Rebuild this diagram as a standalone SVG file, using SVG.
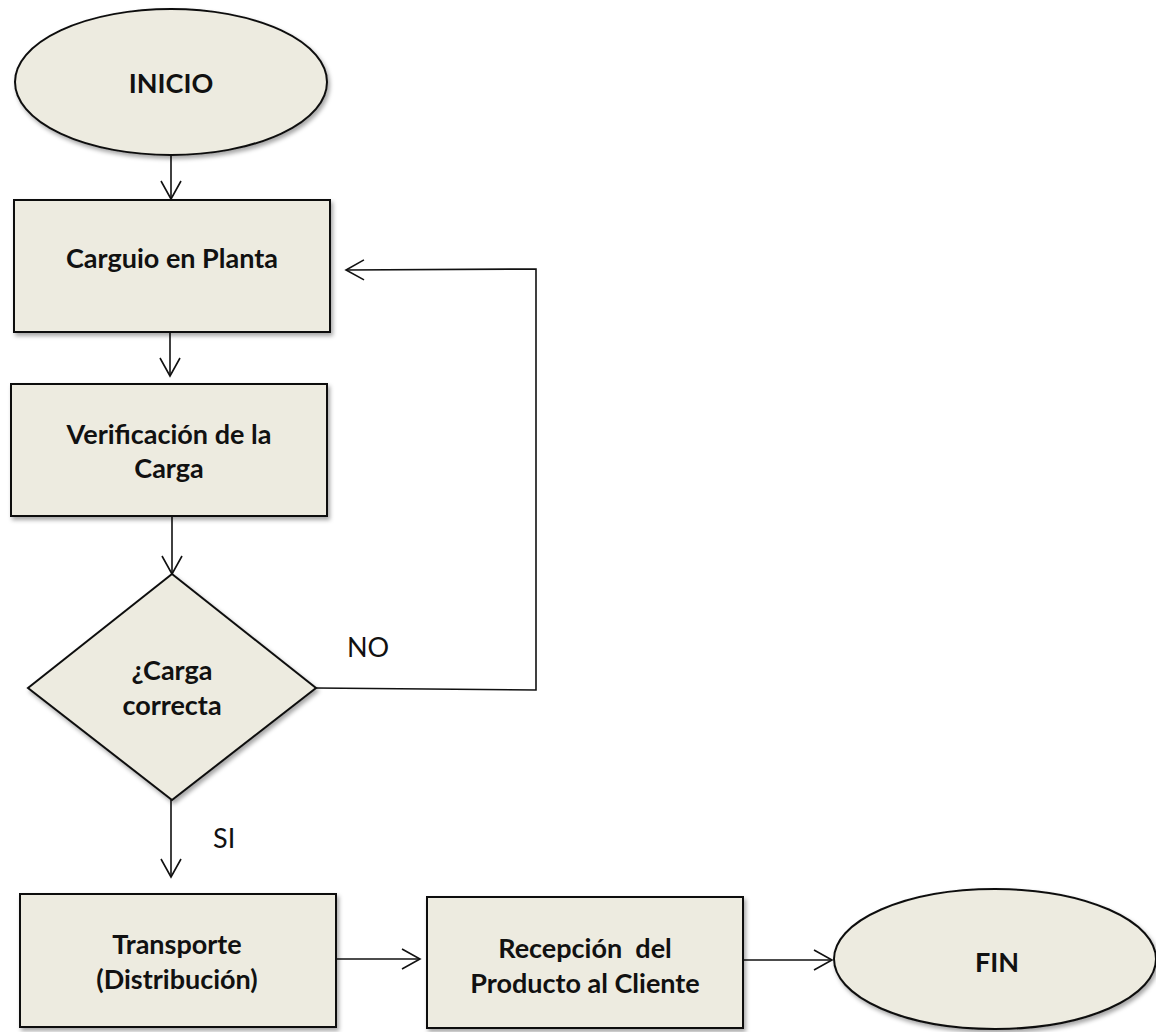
<svg xmlns="http://www.w3.org/2000/svg" width="1156" height="1032" viewBox="0 0 1156 1032">
<style>
.node{fill:#EDEBE0;stroke:#111;stroke-width:2;filter:url(#sh)}
.lbl{font-family:Lato,"Liberation Sans",sans-serif;font-weight:bold;font-size:27px;fill:#111;text-anchor:middle}
.reg{font-family:Lato,"Liberation Sans",sans-serif;font-size:27px;fill:#111}
.edge{fill:none;stroke:#111;stroke-width:1.6}
</style>
<defs>
<filter id="sh" x="-10%" y="-10%" width="120%" height="130%">
<feDropShadow dx="2" dy="3" stdDeviation="2" flood-color="#000" flood-opacity="0.35"/>
</filter>
<marker id="arr" markerUnits="userSpaceOnUse" markerWidth="24" markerHeight="24" viewBox="-20 -12 24 24" refX="0" refY="0" orient="auto">
<path d="M-18,-10 L0,0 L-18,10" fill="none" stroke="#111" stroke-width="1.6"/>
</marker>
</defs>
<rect width="1156" height="1032" fill="#fff"/>
<g id="connectors">
<line class="edge" x1="171" y1="155" x2="171" y2="199" marker-end="url(#arr)"/>
<line class="edge" x1="170" y1="332" x2="170" y2="376" marker-end="url(#arr)"/>
<line class="edge" x1="172" y1="516" x2="172" y2="574" marker-end="url(#arr)"/>
<polyline class="edge" points="316,688 536,690 536,269 346,270" marker-end="url(#arr)"/>
<line class="edge" x1="171" y1="800" x2="171" y2="877" marker-end="url(#arr)"/>
<line class="edge" x1="336" y1="959" x2="420" y2="959" marker-end="url(#arr)"/>
<line class="edge" x1="743" y1="960" x2="832" y2="960" marker-end="url(#arr)"/>
<text class="reg" x="347" y="657">NO</text>
<text class="reg" x="213" y="848">SI</text>
</g>
<g id="inicio">
<ellipse class="node" cx="171" cy="82" rx="156" ry="73"/>
<text class="lbl" x="171" y="93">INICIO</text>
</g>
<g id="carguio">
<rect class="node" x="14" y="200" width="316" height="132"/>
<text class="lbl" x="172" y="268">Carguio en Planta</text>
</g>
<g id="verificacion">
<rect class="node" x="11" y="384" width="316" height="132"/>
<text class="lbl" x="169" y="444">Verificación de la</text>
<text class="lbl" x="169" y="478">Carga</text>
</g>
<g id="decision">
<polygon class="node" points="172,574 316,688 172,800 28,688"/>
<text class="lbl" x="172" y="680">¿Carga</text>
<text class="lbl" x="172" y="715">correcta</text>
</g>
<g id="transporte">
<rect class="node" x="20" y="894" width="316" height="133"/>
<text class="lbl" x="177" y="954">Transporte</text>
<text class="lbl" x="177" y="989">(Distribución)</text>
</g>
<g id="recepcion">
<rect class="node" x="427" y="897" width="316" height="131"/>
<text class="lbl" x="585" y="958" xml:space="preserve">Recepción  del</text>
<text class="lbl" x="585" y="993">Producto al Cliente</text>
</g>
<g id="fin">
<ellipse class="node" cx="995" cy="959" rx="161" ry="70"/>
<text class="lbl" x="997" y="972">FIN</text>
</g>
</svg>
